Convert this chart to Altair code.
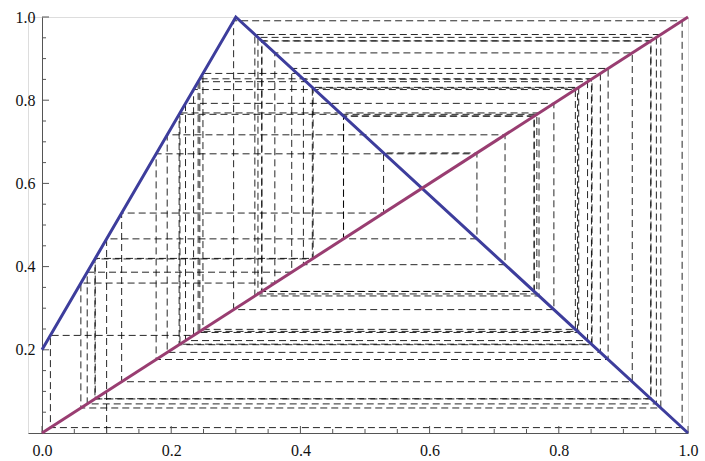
import altair as alt
import pandas as pd

# Orbit of the piecewise-linear map, starting at x0 = 0.1
orbit = [0.1, 0.466667, 0.761905, 0.340136, 0.942663, 0.081910, 0.418427, 0.830819,
         0.241687, 0.844499, 0.222144, 0.792384, 0.296594, 0.990917, 0.012976, 0.234603,
         0.825608, 0.249131, 0.864349, 0.193787, 0.716765, 0.404621, 0.850541, 0.213513,
         0.769368, 0.329474, 0.957894, 0.060151, 0.360403, 0.913710, 0.123271, 0.528723,
         0.673253, 0.466781, 0.761741, 0.340370, 0.942329, 0.082387, 0.419699, 0.829001,
         0.244284, 0.851424, 0.212251, 0.766003, 0.334281, 0.951027, 0.069961, 0.386563,
         0.876339, 0.176659, 0.671091]

# Map graph (tent) and the diagonal y = x
tent_x = [0.0, 0.3, 1.0]
tent_y = [0.2, 1.0, 0.0]
diag_x = [0.0, 1.0]
diag_y = [0.0, 1.0]

x_major = [0.0, 0.2, 0.4, 0.6, 0.8, 1.0]
y_major = [0.2, 0.4, 0.6, 0.8, 1.0]
minor = [0.05, 0.1, 0.15, 0.25, 0.3, 0.35, 0.45, 0.5,
         0.55, 0.65, 0.7, 0.75, 0.85, 0.9, 0.95]

# Cobweb path: (x0, 0) -> (x_k, x_{k+1}) -> (x_{k+1}, x_{k+1}) -> ...
px, py = [orbit[0]], [0.0]
for k in range(len(orbit) - 1):
    px += [orbit[k], orbit[k + 1]]
    py += [orbit[k + 1], orbit[k + 1]]
cob = pd.DataFrame({"x": px, "y": py, "i": list(range(len(px)))})
tent = pd.DataFrame({"x": tent_x, "y": tent_y})
diag = pd.DataFrame({"x": diag_x, "y": diag_y})
xmaj_df = pd.DataFrame({"v": x_major})
ymaj_df = pd.DataFrame({"v": y_major})
min_df = pd.DataFrame({"v": minor})

W, H = 660, 416
XDOM = [-0.0217, 1.0]
YDOM = [0.0, 1.0]
FONT = "Liberation Serif"
AX = "#555555"

xs = alt.Scale(domain=XDOM, nice=False, zero=False)
ys = alt.Scale(domain=YDOM, nice=False, zero=False)

# Labelled axes; the y axis is shifted in so that it crosses at x = 0
x_lab = alt.Axis(values=x_major, format=".1f", ticks=False, grid=False, domain=True,
                 domainColor=AX, labelFont=FONT, labelFontSize=16, labelColor="#111111",
                 labelPadding=9, title=None, orient="bottom", labelFlush=False)
y_lab = alt.Axis(values=y_major, format=".1f", ticks=False, grid=False, domain=True,
                 domainColor=AX, labelFont=FONT, labelFontSize=16, labelColor="#111111",
                 labelPadding=7, title=None, orient="left", offset=-14)

cobweb = alt.Chart(cob).mark_line(
    color="black", strokeWidth=1, strokeDash=[7, 4], opacity=0.85, clip=False
).encode(
    x=alt.X("x:Q", scale=xs, axis=x_lab),
    y=alt.Y("y:Q", scale=ys, axis=y_lab),
    order="i:Q",
)


# Inward-pointing tick marks on both axes
def x_ticks(df, length):
    return alt.Chart(df).mark_rule(color=AX, strokeWidth=1, y2Offset=-length).encode(
        x=alt.X("v:Q", scale=xs, axis=x_lab),
        y=alt.Y(datum=0.0, type="quantitative", scale=ys, axis=y_lab),
        y2=alt.Y2(datum=0.0),
    )


def y_ticks(df, length):
    return alt.Chart(df).mark_rule(color=AX, strokeWidth=1, x2Offset=length).encode(
        y=alt.Y("v:Q", scale=ys, axis=y_lab),
        x=alt.X(datum=0.0, type="quantitative", scale=xs, axis=x_lab),
        x2=alt.X2(datum=0.0),
    )


tent_line = alt.Chart(tent).mark_line(color="#3d3d9c", strokeWidth=3, clip=False).encode(
    x=alt.X("x:Q", scale=xs, axis=x_lab),
    y=alt.Y("y:Q", scale=ys, axis=y_lab),
)

diag_line = alt.Chart(diag).mark_line(color="#993d71", strokeWidth=3, clip=False).encode(
    x=alt.X("x:Q", scale=xs, axis=x_lab),
    y=alt.Y("y:Q", scale=ys, axis=y_lab),
)

chart = alt.layer(
    cobweb,
    x_ticks(xmaj_df, 7), x_ticks(min_df, 4),
    y_ticks(ymaj_df, 7), y_ticks(min_df, 4),
    tent_line, diag_line,
).properties(
    width=W, height=H,
    autosize=alt.AutoSizeParams(type="none"),
    padding={"left": 28, "top": 17, "right": 17, "bottom": 28},
).configure_view(stroke=None).configure(background="white")

chart.save("out.html", embed_options={"renderer": "svg", "actions": False})
